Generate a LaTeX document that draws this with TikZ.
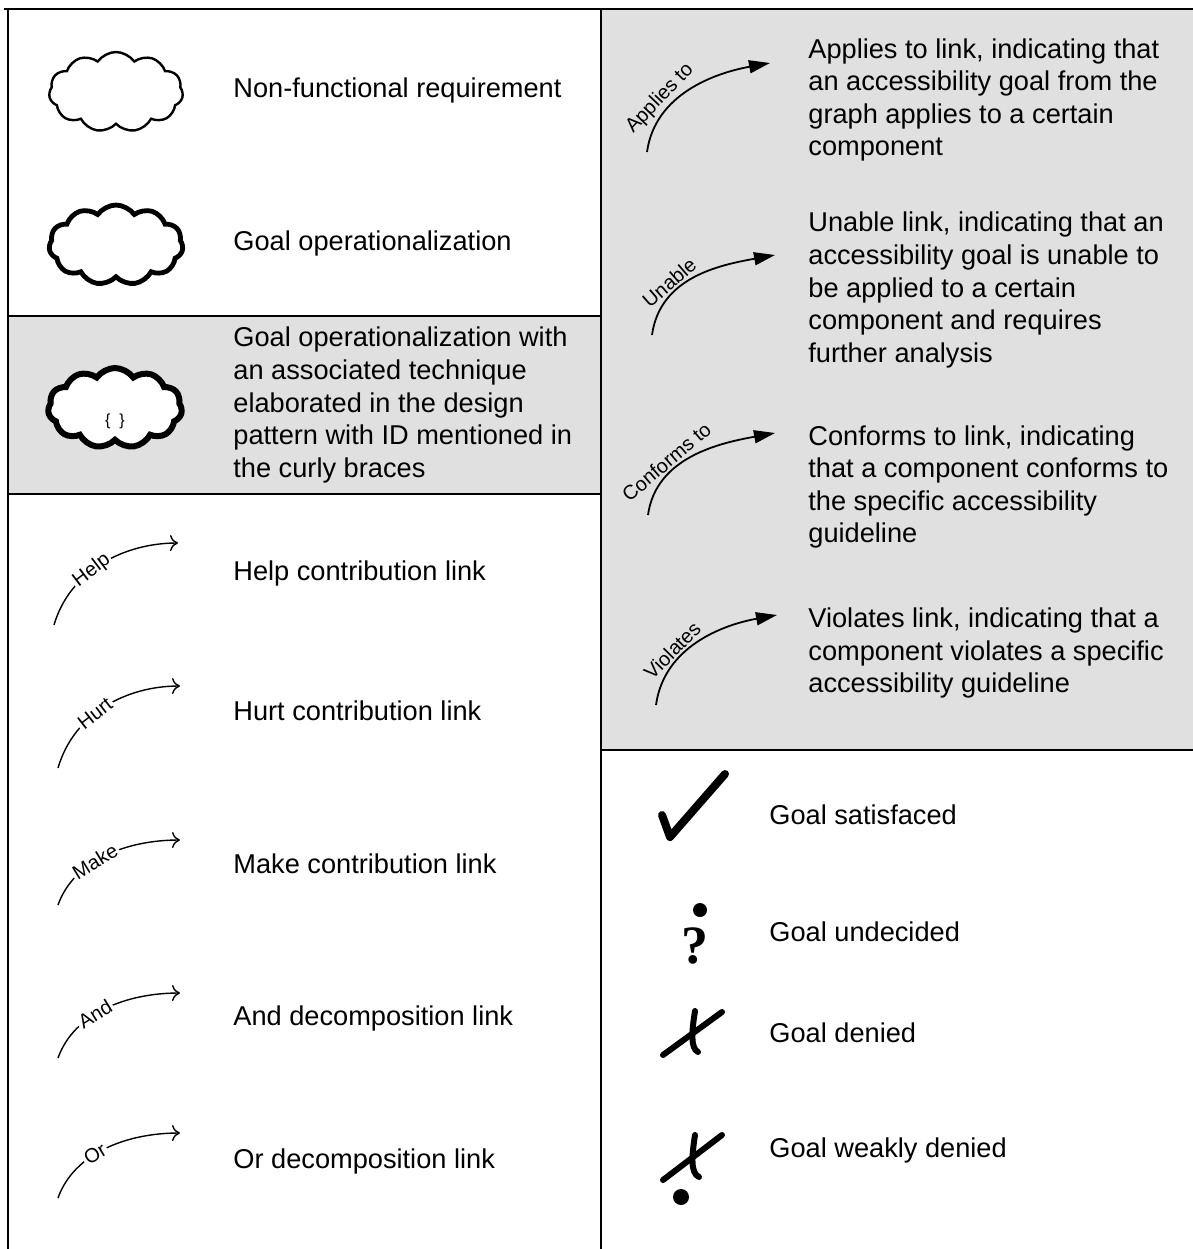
\documentclass[tikz,border=0pt]{standalone}
\usepackage{fontspec}
\setmainfont{Liberation Sans}
\newfontfamily\qmarkfont{Liberation Serif}
\usetikzlibrary{arrows.meta,shapes.symbols}
\definecolor{panelgray}{HTML}{E0E0E0}
\tikzset{
  legtext/.style={anchor=west, align=left, inner sep=0pt, font=\fontsize{13.6}{16.3}\selectfont},
  goalcloud/.style={cloud, cloud puffs=11, cloud puff arc=110, cloud ignores aspect,
    minimum width=67pt, minimum height=40pt, draw, fill=white, inner sep=0pt},
  contrib/.style={line width=0.7pt, -{To[length=4pt,width=8pt]}},
  linktag/.style={sloped, fill=white, inner sep=1pt, font=\fontsize{10}{11}\selectfont},
  evallink/.style={line width=0.9pt, -{Triangle[length=10.5pt,width=6.5pt]}},
  evaltag/.style={sloped, above, inner sep=1pt, font=\fontsize{10}{11}\selectfont},
  labelstroke/.style={line width=3pt, line cap=round, line join=round},
}

\begin{document}
\begin{tikzpicture}[x=0.5pt,y=-0.5pt]
\useasboundingbox (0,0) rectangle (1193,1249);
% panels
\fill[panelgray] (601,9) rectangle (1193,750);
\fill[panelgray] (8,316) rectangle (601,494);
\draw[line width=0.75pt] (4,9) -- (1193,9);
\draw[line width=0.75pt] (8,9) -- (8,1249);
\draw[line width=0.75pt] (601,9) -- (601,1249);
\draw[line width=0.75pt] (8,316) -- (601,316);
\draw[line width=0.75pt] (8,494) -- (601,494);
\draw[line width=0.75pt] (601,750) -- (1193,750);

% softgoal kinds
\node[goalcloud, line width=1.2pt] (nfr) at (116,92) {};
\node[legtext] (nfr-t) at (233,90) {Non-functional requirement};
\node[goalcloud, line width=2.4pt] (oper) at (116,245) {};
\node[legtext] (oper-t) at (233,243) {Goal operationalization};
\node[goalcloud, line width=3pt] (opertech) at (115,408) {};
\node[font=\fontsize{8}{9}\selectfont] (opertech-id) at (115,421) {\{\ \ \}};
\node[legtext] (opertech-t) at (233,405) {Goal operationalization with\\an associated technique\\elaborated in the design\\pattern with ID mentioned in\\the curly braces};

% contribution and decomposition links
\coordinate (help-s) at (54,625);
\coordinate (help-e) at (178,543);
\draw[contrib] (help-s) .. controls +(16,-55) and +(-53,0) .. (help-e) node[linktag, pos=0.42] {Help};
\node[legtext] (help-t) at (233,573) {Help contribution link};
\coordinate (hurt-s) at (58,768);
\coordinate (hurt-e) at (180,686);
\draw[contrib] (hurt-s) .. controls +(16,-55) and +(-53,0) .. (hurt-e) node[linktag, pos=0.42] {Hurt};
\node[legtext] (hurt-t) at (233,711) {Hurt contribution link};
\coordinate (make-s) at (58,905);
\coordinate (make-e) at (180,840);
\draw[contrib] (make-s) .. controls +(16,-45) and +(-53,0) .. (make-e) node[linktag, pos=0.42] {Make};
\node[legtext] (make-t) at (233,864) {Make contribution link};
\coordinate (and-s) at (58,1058);
\coordinate (and-e) at (180,993);
\draw[contrib] (and-s) .. controls +(16,-45) and +(-53,0) .. (and-e) node[linktag, pos=0.42] {And};
\node[legtext] (and-t) at (233,1018) {And decomposition link};
\coordinate (or-s) at (58,1198);
\coordinate (or-e) at (180,1133);
\draw[contrib] (or-s) .. controls +(16,-45) and +(-53,0) .. (or-e) node[linktag, pos=0.42] {Or};
\node[legtext] (or-t) at (233,1161) {Or decomposition link};

% evaluation links
\coordinate (applies-s) at (647,152);
\coordinate (applies-e) at (770,63);
\draw[evallink] (applies-s) .. controls +(8,-58) and +(-55,10) .. (applies-e) node[evaltag, pos=0.32] {Applies to};
\node[legtext] (applies-t) at (808,100) {Applies to link, indicating that\\an accessibility goal from the\\graph applies to a certain\\component};
\coordinate (unable-s) at (652,335);
\coordinate (unable-e) at (775,255);
\draw[evallink] (unable-s) .. controls +(8,-58) and +(-55,10) .. (unable-e) node[evaltag, pos=0.34] {Unable};
\node[legtext] (unable-t) at (808,290) {Unable link, indicating that an\\accessibility goal is unable to\\be applied to a certain\\component and requires\\further analysis};
\coordinate (conforms-s) at (648,515);
\coordinate (conforms-e) at (775,433);
\draw[evallink] (conforms-s) .. controls +(8,-58) and +(-55,10) .. (conforms-e) node[evaltag, pos=0.34] {Conforms to};
\node[legtext] (conforms-t) at (808,487) {Conforms to link, indicating\\that a component conforms to\\the specific accessibility\\guideline};
\coordinate (violates-s) at (656,705);
\coordinate (violates-e) at (777,615);
\draw[evallink] (violates-s) .. controls +(8,-58) and +(-55,10) .. (violates-e) node[evaltag, pos=0.34] {Violates};
\node[legtext] (violates-t) at (808,653) {Violates link, indicating that a\\component violates a specific\\accessibility guideline};

% goal labels
\draw[labelstroke, line width=4pt] (662,815) -- (670,837) -- (725,774);
\node[legtext] (sat-t) at (769,815) {Goal satisfaced};
\fill (700,910) circle (7);
\node[font=\qmarkfont\bfseries\fontsize{27}{30}\selectfont, inner sep=0pt] (undec-q) at (695,946) {?};
\node[legtext] (undec-t) at (769,932) {Goal undecided};
\draw[labelstroke] (663,1055) -- (722,1012);
\draw[labelstroke] (695,1011) .. controls (692,1030) and (690,1048) .. (698,1052);
\node[legtext] (den-t) at (769,1033) {Goal denied};
\draw[labelstroke] (663,1180) -- (722,1135);
\draw[labelstroke] (695,1135) .. controls (692,1155) and (690,1173) .. (699,1177);
\fill (681,1197) circle (8);
\node[legtext] (wden-t) at (769,1150) {Goal weakly denied};
\end{tikzpicture}
\end{document}
